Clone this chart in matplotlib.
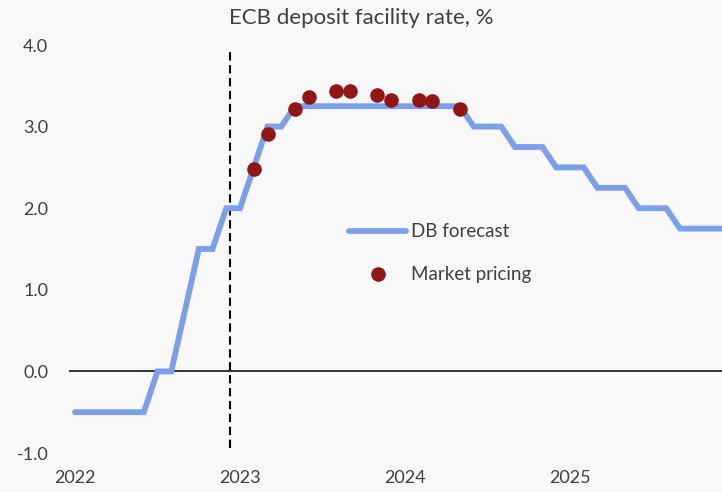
import matplotlib.pyplot as plt

plt.rcParams['font.family'] = ['Lato', 'DejaVu Sans']

# monthly index: 0 = Jan 2022
db_forecast = [-0.5, -0.5, -0.5, -0.5, -0.5, -0.5,
               0.0, 0.0, 0.75, 1.5, 1.5, 2.0,
               2.0, 2.5, 3.0, 3.0,
               3.25, 3.25, 3.25, 3.25, 3.25, 3.25, 3.25, 3.25, 3.25, 3.25, 3.25, 3.25, 3.25,
               3.0, 3.0, 3.0,
               2.75, 2.75, 2.75,
               2.5, 2.5, 2.5,
               2.25, 2.25, 2.25,
               2.0, 2.0, 2.0,
               1.75, 1.75, 1.75, 1.75]
months = list(range(len(db_forecast)))

market_months = [13, 14, 16, 17, 19, 20, 22, 23, 25, 26, 28]
market_pricing = [2.48, 2.91, 3.22, 3.36, 3.44, 3.44, 3.39, 3.33, 3.33, 3.31, 3.21]

year_labels = ['2022', '2023', '2024', '2025']
year_pos = [0, 12, 24, 36]
y_ticks = [4.0, 3.0, 2.0, 1.0, 0.0, -1.0]
today = 11.3

bg = '#f8f8f8'
txt = '#404040'

fig = plt.figure(figsize=(7.22, 4.92), dpi=100, facecolor=bg)
ax = fig.add_axes([69 / 722, 1 - 453 / 492, 1 - 69 / 722, (453 - 45) / 492])
ax.set_facecolor(bg)

ax.axhline(0, color='black', lw=1.1, zorder=1)
ax.vlines(today, -0.94, 3.94, colors='black', lw=1.5, linestyles=(0, (4, 2.2)), zorder=1)

ax.plot(months, db_forecast, color='#7b9feb', lw=4.2, solid_joinstyle='miter',
        solid_capstyle='round', label='DB forecast', zorder=2)
ax.plot(market_months, market_pricing, 'o', color='#931616', markersize=10.5,
        markeredgewidth=0, label='Market pricing', zorder=3)

ax.set_xlim(-0.44, 47.06)
ax.set_ylim(-1.0, 4.0)
ax.set_xticks(year_pos)
ax.set_xticklabels(year_labels)
ax.set_yticks(y_ticks)
ax.set_yticklabels(['%.1f' % v for v in y_ticks])
ax.tick_params(axis='both', length=0, labelsize=13, colors=txt)
ax.tick_params(axis='y', pad=15)
ax.tick_params(axis='x', pad=12)
for s in ax.spines.values():
    s.set_visible(False)

fig.text(0.5, 1 - 18 / 492, 'ECB deposit facility rate, %', ha='center', va='center',
         fontsize=16, color=txt)

leg = ax.legend(loc='upper left', bbox_to_anchor=(340 / 722, 1 - 214 / 492),
                bbox_transform=fig.transFigure, frameon=False, fontsize=13.5,
                borderpad=0, handlelength=3.0, handletextpad=0.3, labelspacing=1.38)
for t in leg.get_texts():
    t.set_color(txt)

fig.savefig('out.png', dpi=100, facecolor=bg)
